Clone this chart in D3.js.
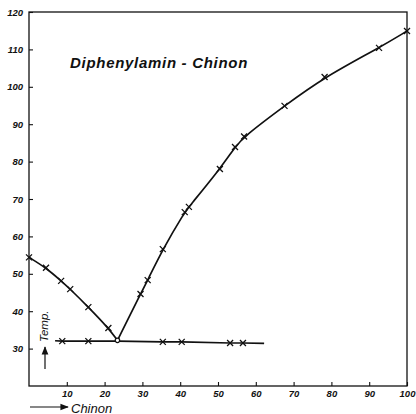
<!DOCTYPE html>
<html>
<head>
<meta charset="utf-8">
<script src="https://cdn.jsdelivr.net/npm/d3@7"></script>
<style>
  html, body { margin: 0; padding: 0; background: #fff; }
  svg { display: block; }
  text { font-family: "Liberation Sans", Arial, sans-serif; font-style: italic; fill: #111; }
</style>
</head>
<body>
<svg id="chart" width="416" height="414"></svg>
<script>
// Melting-point diagram Diphenylamin – Chinon (% Chinon vs. temperature)

// Liquidus, Diphenylamin side (x = % Chinon, t = °C)
const leftX = [0, 4.5, 8.5, 10.9, 15.7, 21.0, 23.4];
const leftT = [54.4, 51.6, 48.1, 45.9, 41.1, 35.5, 32.2];

// Liquidus, Chinon side
const rightX = [23.4, 29.5, 31.4, 35.4, 41.2, 42.3, 50.5, 54.5, 56.9, 67.6, 78.2, 92.6, 100];
const rightT = [32.2, 44.6, 48.3, 56.6, 66.5, 67.9, 78.0, 83.9, 86.7, 94.9, 102.6, 110.4, 114.9];

// Eutectic arrests (first and last entries only bound the drawn line)
const eutX = [6.9, 8.8, 15.7, 23.4, 35.4, 40.4, 53.2, 56.6, 62.2];
const eutT = [32.1, 32.0, 32.0, 32.0, 31.8, 31.8, 31.5, 31.5, 31.4];
const eutMarked = [false, true, true, false, true, true, true, true, false];

// Axis ticks
const xTicks = [10, 20, 30, 40, 50, 60, 70, 80, 90, 100];
const yTicks = [30, 40, 50, 60, 70, 80, 90, 100, 110, 120];

const titleText = "Diphenylamin - Chinon";
const xLabel = "Chinon";
const yLabel = "Temp.";

const svg = d3.select("#chart");
const x = d3.scaleLinear().domain([0, 100]).range([29, 407]);
const y = d3.scaleLinear().domain([20, 120]).range([386, 12]);

// frame
svg.append("rect")
  .attr("x", x(0)).attr("y", y(120))
  .attr("width", x(100) - x(0)).attr("height", y(20) - y(120))
  .attr("fill", "none").attr("stroke", "#111").attr("stroke-width", 1.3);

// axes with inward ticks
const gy = svg.append("g").attr("transform", `translate(${x(0)},0)`)
  .call(d3.axisLeft(y).tickValues(yTicks).tickSize(-4).tickPadding(6).tickFormat(d3.format("d")));
const gx = svg.append("g").attr("transform", `translate(0,${y(20)})`)
  .call(d3.axisBottom(x).tickValues(xTicks).tickSize(-4).tickPadding(4).tickFormat(d3.format("d")));
[gy, gx].forEach(g => {
  g.select(".domain").remove();
  g.selectAll(".tick line").attr("stroke", "#111").attr("stroke-width", 1.1);
  g.selectAll(".tick text")
    .attr("font-family", "Liberation Sans, Arial, sans-serif")
    .attr("font-style", "italic").attr("font-weight", "bold")
    .attr("font-size", 9.5).attr("fill", "#111");
});

// curves
const pts = (xs, ts) => xs.map((v, i) => [x(v), y(ts[i])]);
const smooth = d3.line().curve(d3.curveBasis);
const straight = d3.line();

svg.append("path").attr("d", smooth(pts(leftX, leftT)))
  .attr("fill", "none").attr("stroke", "#111").attr("stroke-width", 1.7);
svg.append("path").attr("d", smooth(pts(rightX, rightT)))
  .attr("fill", "none").attr("stroke", "#111").attr("stroke-width", 1.7);
svg.append("path").attr("d", straight(pts(eutX, eutT)))
  .attr("fill", "none").attr("stroke", "#111").attr("stroke-width", 1.7);

// cross markers
function crosses(data) {
  const s = 3;
  svg.append("g").selectAll("path").data(data).join("path")
    .attr("d", d => `M${d[0]-s},${d[1]-s}L${d[0]+s},${d[1]+s}M${d[0]-s},${d[1]+s}L${d[0]+s},${d[1]-s}`)
    .attr("stroke", "#111").attr("stroke-width", 1.3).attr("fill", "none");
}
crosses(pts(leftX, leftT).slice(0, -1));
crosses(pts(rightX, rightT).slice(1));
crosses(pts(eutX, eutT).filter((d, i) => eutMarked[i]));
// eutectic point as small open circle
svg.append("circle").attr("cx", x(leftX[leftX.length - 1])).attr("cy", y(leftT[leftT.length - 1]))
  .attr("r", 2.2).attr("fill", "#fff").attr("stroke", "#111").attr("stroke-width", 1.2);

// title
svg.append("text").attr("x", 70).attr("y", 68)
  .attr("font-size", 15).attr("letter-spacing", 0.7).attr("font-weight", "bold")
  .text(titleText);

// arrows
const defs = svg.append("defs");
defs.append("marker").attr("id", "ah").attr("viewBox", "0 0 10 10")
  .attr("refX", 9).attr("refY", 5).attr("markerWidth", 7).attr("markerHeight", 7)
  .attr("orient", "auto")
  .append("path").attr("d", "M0,1L10,5L0,9Z").attr("fill", "#111");

svg.append("line").attr("x1", 30).attr("y1", 407).attr("x2", 68).attr("y2", 407)
  .attr("stroke", "#111").attr("stroke-width", 1.2).attr("marker-end", "url(#ah)");
svg.append("text").attr("x", 71).attr("y", 412.5).attr("font-size", 13).text(xLabel);

svg.append("line").attr("x1", 45).attr("y1", 369).attr("x2", 45).attr("y2", 347)
  .attr("stroke", "#111").attr("stroke-width", 1.2).attr("marker-end", "url(#ah)");
svg.append("text").attr("transform", "translate(48,342) rotate(-90)")
  .attr("font-size", 11.5).text(yLabel);
</script>
</body>
</html>
